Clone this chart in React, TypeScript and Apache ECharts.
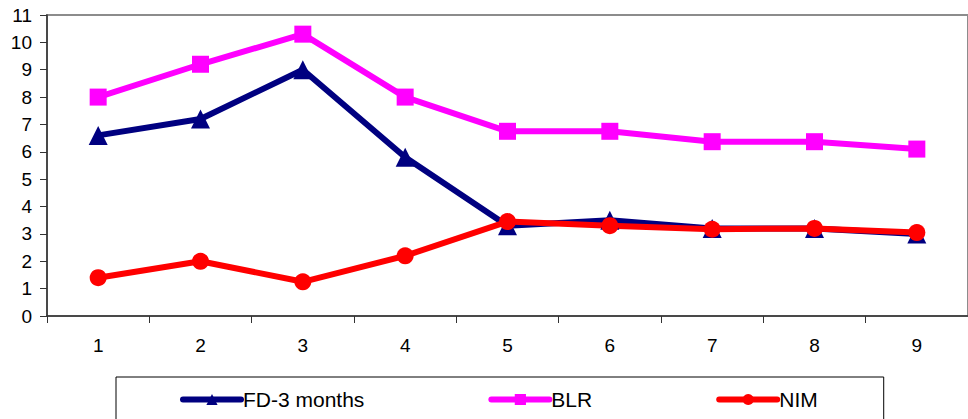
import React, { useEffect, useRef } from "react";
import * as echarts from "echarts";

const categories = ["1", "2", "3", "4", "5", "6", "7", "8", "9"];
const fdThreeMonths = [6.6, 7.2, 9.0, 5.8, 3.3, 3.5, 3.2, 3.2, 3.0];
const blr = [8.0, 9.2, 10.3, 8.0, 6.75, 6.75, 6.37, 6.37, 6.1];
const nim = [1.4, 2.0, 1.25, 2.2, 3.45, 3.3, 3.17, 3.2, 3.05];
const seriesNames = ["FD-3 months", "BLR", "NIM"];

const FONT = "'Liberation Sans', Arial, sans-serif";

export default function App() {
  const ref = useRef<HTMLDivElement>(null);
  useEffect(() => {
    if (!ref.current) return;
    const chart = echarts.init(ref.current, null, { renderer: "svg" });
    const mk = (name: string, data: number[], color: string, symbol: string, size: number) => ({
      name,
      type: "line",
      data,
      symbol,
      symbolSize: size,
      showAllSymbol: true,
      lineStyle: { color, width: 6 },
      itemStyle: { color },
      emphasis: { disabled: true },
    });
    chart.setOption({
      animation: false,
      backgroundColor: "#ffffff",
      textStyle: { fontFamily: FONT },
      grid: {
        left: 47,
        top: 15,
        right: -9,
        bottom: 103,
        show: true,
        borderColor: "#8c8c8c",
        borderWidth: 2,
        containLabel: false,
      },
      legend: {
        data: seriesNames,
        left: 116,
        top: 377,
        orient: "horizontal",
        itemWidth: 58,
        itemHeight: 14,
        itemGap: 124,
        padding: [12, 66, 40, 64],
        borderColor: "#000000",
        borderWidth: 1,
        lineStyle: { width: 6, cap: "round" },
        textStyle: { fontSize: 21, color: "#000", fontFamily: FONT, padding: [0, 0, 0, -3] },
      },
      xAxis: {
        type: "category",
        data: categories,
        boundaryGap: true,
        axisLine: { show: true, lineStyle: { color: "#333", width: 1.5 } },
        axisTick: { show: true, length: 7, inside: false, lineStyle: { color: "#333" } },
        axisLabel: { fontSize: 19, color: "#000", margin: 20, fontFamily: FONT },
        splitLine: { show: false },
      },
      yAxis: {
        type: "value",
        min: 0,
        max: 11,
        interval: 1,
        axisLine: { show: true, lineStyle: { color: "#333", width: 1.5 } },
        axisTick: { show: true, length: 7, inside: false, lineStyle: { color: "#333" } },
        axisLabel: { fontSize: 19, color: "#000", margin: 15, fontFamily: FONT },
        splitLine: { show: false },
      },
      series: [
        mk(seriesNames[0], fdThreeMonths, "#000080", "triangle", 19),
        mk(seriesNames[1], blr, "#ff00ff", "rect", 17),
        mk(seriesNames[2], nim, "#ff0000", "circle", 17),
      ],
    });
    return () => chart.dispose();
  }, []);
  return <div ref={ref} style={{ width: 968, height: 419, position: "absolute", left: 0, top: 0 }} />;
}
